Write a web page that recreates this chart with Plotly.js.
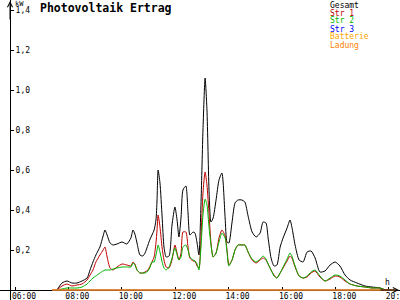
<!DOCTYPE html>
<html>
<head>
<meta charset="utf-8">
<script src="https://cdn.plot.ly/plotly-3.0.1.min.js"></script>
<style>html,body{margin:0;padding:0;background:#fff;}#chart{width:400px;height:300px;}</style>
</head>
<body>
<div id="chart"></div>
<script>
// ---- data (time of day in decimal hours, power in kW) ----
const hours = [7.57,7.76,7.95,8.13,8.32,8.51,8.70,8.81,8.92,9.03,9.18,9.30,9.37,9.45,9.56,9.67,9.82,10.01,10.19,10.34,10.42,10.49,10.57,10.68,10.79,10.87,10.98,11.06,11.13,11.21,11.28,11.32,11.36,11.43,11.51,11.58,11.66,11.77,11.88,11.99,12.07,12.14,12.22,12.29,12.40,12.48,12.55,12.67,12.74,12.82,12.89,12.97,13.04,13.12,13.19,13.27,13.34,13.42,13.53,13.64,13.75,13.87,13.94,14.01,14.13,14.24,14.35,14.50,14.61,14.73,14.88,15.03,15.18,15.29,15.40,15.48,15.59,15.70,15.81,15.93,16.04,16.19,16.30,16.37,16.49,16.64,16.79,16.94,17.09,17.24,17.42,17.61,17.80,17.99,18.17,18.36,18.55,18.81,19.11,19.37,19.67,19.86];
const gesamt = [0,0.035,0.045,0.035,0.035,0.045,0.06,0.10,0.14,0.175,0.215,0.27,0.30,0.275,0.235,0.225,0.23,0.24,0.23,0.26,0.30,0.28,0.235,0.175,0.17,0.185,0.225,0.255,0.275,0.30,0.35,0.45,0.60,0.535,0.365,0.215,0.165,0.17,0.325,0.415,0.35,0.265,0.365,0.50,0.52,0.385,0.275,0.29,0.285,0.235,0.175,0.45,0.80,1.06,0.90,0.485,0.34,0.36,0.45,0.55,0.585,0.36,0.24,0.235,0.34,0.435,0.45,0.45,0.44,0.37,0.29,0.265,0.285,0.34,0.335,0.26,0.16,0.12,0.125,0.215,0.26,0.31,0.35,0.315,0.225,0.15,0.14,0.19,0.195,0.16,0.09,0.095,0.125,0.14,0.12,0.075,0.05,0.035,0.02,0.015,0.01,0];
const str1 = [0,0.02,0.03,0.02,0.025,0.03,0.05,0.075,0.10,0.14,0.175,0.20,0.215,0.165,0.11,0.10,0.115,0.13,0.125,0.12,0.14,0.13,0.10,0.085,0.085,0.09,0.10,0.12,0.14,0.165,0.235,0.30,0.375,0.315,0.21,0.15,0.115,0.11,0.15,0.225,0.185,0.15,0.185,0.29,0.29,0.215,0.16,0.145,0.145,0.12,0.11,0.275,0.485,0.59,0.525,0.375,0.235,0.165,0.185,0.26,0.30,0.27,0.20,0.125,0.15,0.20,0.225,0.225,0.225,0.19,0.15,0.135,0.15,0.16,0.15,0.13,0.10,0.075,0.06,0.085,0.11,0.145,0.17,0.16,0.115,0.07,0.06,0.065,0.085,0.095,0.065,0.045,0.055,0.07,0.065,0.045,0.03,0.02,0.015,0.01,0.01,0];
const str2 = [0,0.005,0.01,0.01,0.01,0.015,0.03,0.045,0.06,0.07,0.085,0.095,0.10,0.10,0.10,0.105,0.11,0.115,0.115,0.115,0.135,0.125,0.10,0.085,0.085,0.085,0.095,0.115,0.14,0.14,0.175,0.20,0.225,0.19,0.14,0.11,0.10,0.115,0.16,0.21,0.175,0.15,0.165,0.215,0.225,0.20,0.165,0.15,0.145,0.13,0.10,0.225,0.375,0.455,0.425,0.31,0.225,0.165,0.185,0.24,0.285,0.26,0.19,0.12,0.15,0.20,0.225,0.225,0.225,0.19,0.155,0.14,0.155,0.17,0.155,0.13,0.10,0.07,0.06,0.085,0.115,0.155,0.185,0.17,0.12,0.07,0.06,0.07,0.09,0.10,0.07,0.045,0.06,0.075,0.07,0.05,0.03,0.02,0.015,0.01,0.01,0];
const flatHours = [7.39, 20.27];
const str3 = [0, 0];
const batterie = [0, 0];
const ladung = [0, 0];

const seriesNames = ["Gesamt", "Str 1", "Str 2", "Str 3", "Batterie", "Ladung"];
const seriesColors = ["#000000", "#c00000", "#00b400", "#0000ff", "#ffa500", "#ff8000"];

const xTickVals = [6, 8, 10, 12, 14, 16, 18, 20];
const xTickText = ["06:00", "08:00", "10:00", "12:00", "14:00", "16:00", "18:00", "20:00"];
const yTickVals = [0.2, 0.4, 0.6, 0.8, 1.0, 1.2, 1.4];
const yTickText = ["0,2", "0,4", "0,6", "0,8", "1,0", "1,2", "1,4"];

const titleText = "Photovoltaik Ertrag";
const yUnit = "kW";
const xUnit = "h";

// ---- layout geometry (plot area = whole picture, axes cross at pixel (10, 290)) ----
const W = 400, H = 300;
const AX = 10, AY = 290;
const px = p => p / W;
const py = p => (H - p) / H;
const mono = "DejaVu Sans Mono, monospace";

const xs = [hours, hours, hours, flatHours, flatHours, flatHours];
const ys = [gesamt, str1, str2, str3, batterie, ladung];

const traces = seriesNames.map((name, i) => ({
  type: "scatter", mode: "lines", name: name,
  x: xs[i], y: ys[i],
  line: {color: seriesColors[i], width: 1, shape: i < 3 ? "spline" : "linear", smoothing: 0.6},
  hoverinfo: "skip", showlegend: false
}));

const legendAnn = seriesNames.map((name, i) => ({
  xref: "paper", yref: "paper", x: px(329), y: py(5 + 8 * i),
  xanchor: "left", yanchor: "middle", showarrow: false, borderpad: 0,
  text: name, font: {family: mono, size: 8, color: seriesColors[i]}
}));

const axisArrows = [
  {xref: "paper", yref: "paper", x: px(AX), y: py(1), ax: 0, ay: 20,
   showarrow: true, arrowhead: 5, arrowsize: 1, arrowwidth: 1, arrowcolor: "#000", text: "", standoff: 0},
  {xref: "paper", yref: "paper", x: px(399), y: py(AY), ax: -20, ay: 0,
   showarrow: true, arrowhead: 5, arrowsize: 1, arrowwidth: 1, arrowcolor: "#000", text: "", standoff: 0}
];

const unitAnn = [
  {xref: "paper", yref: "paper", x: px(14), y: py(-1), xanchor: "left", yanchor: "top", showarrow: false, borderpad: 0,
   text: yUnit, font: {family: mono, size: 7, color: "#000"}},
  {xref: "paper", yref: "paper", x: px(384), y: py(282), xanchor: "left", yanchor: "middle", showarrow: false, borderpad: 0,
   text: xUnit, font: {family: mono, size: 8, color: "#000"}}
];

const pxPerHour = 26.7, hourAtTick = 6, tickPx = 15;
const xRange = [hourAtTick - tickPx / pxPerHour, hourAtTick + (W - tickPx) / pxPerHour];
const yRange = [-(H - AY) / 200, AY / 200];

const baseX = {range: xRange, anchor: "free", position: py(AY), showgrid: false, zeroline: false,
               tickmode: "array", tickvals: xTickVals, ticklen: 3, tickcolor: "#000", tickwidth: 1,
               fixedrange: true, layer: "below traces"};
const baseY = {range: yRange, anchor: "free", position: px(AX), showgrid: false, zeroline: false,
               tickmode: "array", tickvals: yTickVals, ticklen: 3, tickcolor: "#000", tickwidth: 1,
               fixedrange: true, layer: "below traces"};

const layout = {
  width: W, height: H,
  margin: {l: 0, r: 0, t: 0, b: 0, pad: 0},
  paper_bgcolor: "#fff", plot_bgcolor: "#fff",
  showlegend: false,
  font: {family: mono, size: 8, color: "#000"},
  title: {text: "<b>" + titleText + "</b>", font: {family: mono, size: 11.5, color: "#000"},
          xref: "container", yref: "container", x: 40 / W, xanchor: "left", y: 1 - 8 / H, yanchor: "middle"},
  xaxis: Object.assign({}, baseX, {showline: true, linecolor: "#000", linewidth: 1, ticks: "inside",
          ticktext: xTickText, ticklabelshift: 9, ticklabelstandoff: -2, ticklabeloverflow: "allow",
          tickfont: {family: mono, size: 8, color: "#000"}}),
  yaxis: Object.assign({}, baseY, {side: "right", showline: true, linecolor: "#000", linewidth: 1, ticks: "outside",
          ticktext: yTickText, ticklabelstandoff: 0, ticklabeloverflow: "allow",
          tickfont: {family: mono, size: 8, color: "#000"}}),
  xaxis2: Object.assign({}, baseX, {overlaying: "x", side: "bottom", ticks: "outside", showticklabels: false, showline: false}),
  yaxis2: Object.assign({}, baseY, {overlaying: "y", side: "left", ticks: "outside", showticklabels: false, showline: false}),
  annotations: legendAnn.concat(axisArrows, unitAnn)
};

Plotly.newPlot("chart", traces, layout, {displayModeBar: false, staticPlot: true});
</script>
</body>
</html>
